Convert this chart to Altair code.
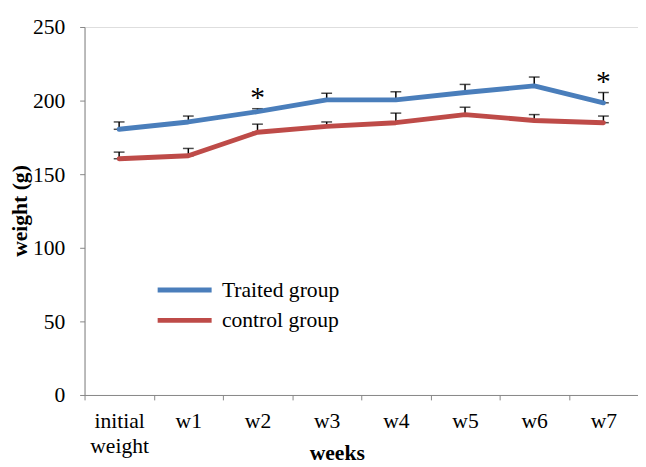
import altair as alt
import pandas as pd

categories = ["initial weight", "w1", "w2", "w3", "w4", "w5", "w6", "w7"]
traited = [180.5, 185.5, 192.5, 200.5, 200.5, 205.5, 210.0, 198.5]
traited_err = [5.0, 4.0, 2.0, 4.5, 5.5, 5.5, 6.0, 7.0]
control = [160.5, 162.5, 178.5, 182.5, 185.0, 190.5, 186.5, 185.0]
control_err = [4.5, 5.0, 5.5, 3.0, 6.5, 5.0, 4.0, 4.5]
series_names = ["Traited group", "control group"]
series_colors = ["#4A7EBB", "#BE4B48"]
star_weeks = ["w2", "w7"]
y_ticks = [0, 50, 100, 150, 200, 250]

FONT = "Liberation Serif"

rows = []
for name, vals, errs in [(series_names[0], traited, traited_err),
                         (series_names[1], control, control_err)]:
    for c, v, e in zip(categories, vals, errs):
        rows.append({"week": c, "group": name, "weight": v, "top": v + e})
df = pd.DataFrame(rows)

stars = df[(df["group"] == series_names[0]) & (df["week"].isin(star_weeks))].copy()
stars["label"] = "*"

xscale = alt.Scale(type="band", domain=categories, paddingInner=0, paddingOuter=0)
yscale = alt.Scale(domain=[0, 250], nice=False)

x_enc = alt.X(
    "week:N",
    scale=xscale,
    sort=categories,
    axis=alt.Axis(
        title="weeks",
        titleFont=FONT,
        titleFontSize=22,
        titleFontWeight="bold",
        titleColor="black",
        titleX=257,
        titleY=66,
        titleBaseline="alphabetic",
        titleAnchor="start",
        titleAlign="center",
        labelFont=FONT,
        labelFontSize=22,
        labelColor="black",
        labelAngle=0,
        labelPadding=11,
        labelLineHeight=26,
        labelExpr="datum.value == 'initial weight' ? ['initial', 'weight'] : datum.value",
        tickBand="extent",
        tickSize=5,
        tickColor="#868686",
        domainColor="#868686",
        grid=False,
    ),
)
y_axis = alt.Axis(
    title="weight (g)",
    titleFont=FONT,
    titleFontSize=22,
    titleFontWeight="bold",
    titleColor="black",
    titleX=-59,
    titleY=187,
    titleAngle=270,
    titleBaseline="alphabetic",
    titleAlign="center",
    labelFont=FONT,
    labelFontSize=22,
    labelColor="black",
    labelPadding=15,
    values=y_ticks,
    tickSize=5,
    tickColor="#868686",
    domainColor="#868686",
    grid=False,
)

base = alt.Chart(df)

whisker = base.mark_rule(color="black", strokeWidth=1.5).encode(
    x=x_enc,
    y=alt.Y("weight:Q", scale=yscale, axis=y_axis),
    y2="top:Q",
)
cap_top = base.mark_tick(color="black", size=11, thickness=1.5).encode(
    x=alt.X("week:N", scale=xscale, sort=categories),
    y=alt.Y("top:Q", scale=yscale),
)
cap_bottom = base.mark_tick(color="black", size=11, thickness=1.5).encode(
    x=alt.X("week:N", scale=xscale, sort=categories),
    y=alt.Y("weight:Q", scale=yscale),
)
lines = base.mark_line(strokeWidth=5, strokeCap="round", strokeJoin="round").encode(
    x=alt.X("week:N", scale=xscale, sort=categories),
    y=alt.Y("weight:Q", scale=yscale),
    color=alt.Color(
        "group:N",
        scale=alt.Scale(domain=series_names, range=series_colors),
        sort=series_names,
        legend=alt.Legend(
            title=None,
            orient="none",
            legendX=91,
            legendY=257,
            symbolType="M-5.5,0H5.5",
            symbolSize=100,
            symbolStrokeWidth=5,
            labelFont=FONT,
            labelFontSize=22,
            labelColor="black",
            labelOffset=27,
            rowPadding=9,
        ),
    ),
)
star_text = alt.Chart(stars).mark_text(
    font=FONT, fontSize=30, color="black", baseline="alphabetic", dy=-2
).encode(
    x=alt.X("week:N", scale=xscale, sort=categories),
    y=alt.Y("top:Q", scale=yscale),
    text="label:N",
)

chart = (
    alt.layer(whisker, cap_top, cap_bottom, lines, star_text)
    .properties(
        width=564,
        height=375,
        autosize=alt.AutoSizeParams(type="none"),
        padding={"left": 78, "top": 15, "right": 0, "bottom": 68},
    )
    .configure_view(stroke=None)
    .configure(background="white")
)

chart.save("out.html", embed_options={"renderer": "svg", "actions": False})
